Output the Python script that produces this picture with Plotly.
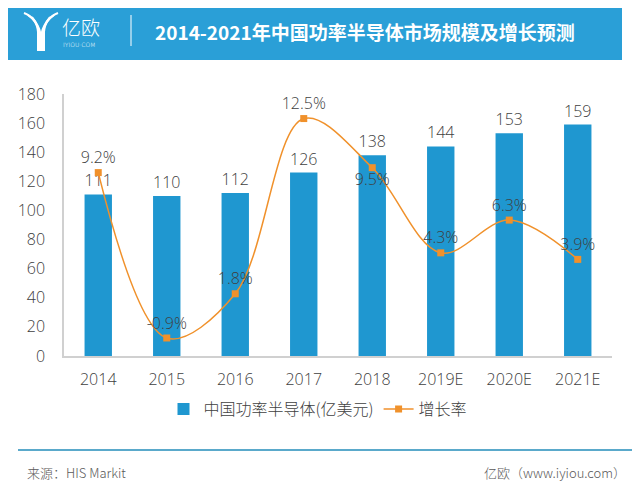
import plotly.graph_objects as go

# chart data
years = ['2014', '2015', '2016', '2017', '2018', '2019E', '2020E', '2021E']
market_size = [111, 110, 112, 126, 138, 144, 153, 159]
growth = [9.2, -0.9, 1.8, 12.5, 9.5, 4.3, 6.3, 3.9]
growth_text = ['9.2%', '-0.9%', '1.8%', '12.5%', '9.5%', '4.3%', '6.3%', '3.9%']

title_text = '2014-2021年中国功率半导体市场规模及增长预测'
source_text = '来源：HIS Markit'
brand_text = '亿欧（www.iyiou.com）'

BAR_BLUE = '#1f97d0'
LINE_ORANGE = '#f0912b'
HEADER_BLUE = '#2a9fd7'
TEXT = '#404040'
FONT = 'Noto Sans CJK SC'
NUM_FONT = 'Open Sans'

# plot area in window pixels; the page body adds an 8px offset, so the figure is shrunk by it
OFF = 8
W, H = 640 - OFF, 492 - OFF
L, R, T, B = 64, 612, 94, 356


def px(x):
    return (x - L) / (R - L)


def py(y):
    return (B - y) / (B - T)


num_font = dict(size=16, color=TEXT, family=NUM_FONT, weight=300)

fig = go.Figure()

fig.add_trace(go.Bar(
    x=years, y=market_size, name='中国功率半导体(亿美元)',
    marker=dict(color=BAR_BLUE, line=dict(width=0)), width=0.4,
    text=[str(v) for v in market_size], textposition='outside',
    textfont=num_font, cliponaxis=False,
))

label_pos = ['top center'] * len(years)
label_pos[4] = 'bottom center'
fig.add_trace(go.Scatter(
    x=years, y=growth, name='增长率', yaxis='y2',
    mode='lines+markers+text', line=dict(color=LINE_ORANGE, width=1.5, shape='spline', smoothing=1),
    marker=dict(symbol='square', size=7, color=LINE_ORANGE),
    text=growth_text, textposition=label_pos,
    textfont=num_font, cliponaxis=False,
))

fig.update_layout(
    width=W, height=H,
    margin=dict(l=L - OFF, r=640 - R, t=T - OFF, b=492 - B, autoexpand=False),
    paper_bgcolor='white', plot_bgcolor='white',
    font=dict(family=FONT, color=TEXT, size=16, weight=300),
    bargap=0.6,
    showlegend=True,
    legend=dict(orientation='h', x=px(318), xanchor='center', y=py(409), yanchor='middle',
                font=dict(size=16, color=TEXT, family=FONT, weight=300), itemwidth=30, tracegroupgap=0),
    xaxis=dict(showline=True, linecolor='#d0d0d0', linewidth=1.5, showgrid=False, automargin=False,
               ticks='', tickfont=num_font, ticklabelstandoff=8),
    yaxis=dict(range=[0, 180], dtick=20, showline=True, linecolor='#d0d0d0', linewidth=1.5,
               showgrid=False, zeroline=False, ticks='', tickfont=num_font,
               ticklabelstandoff=14, automargin=False),
    yaxis2=dict(range=[-2, 14], overlaying='y', side='right', visible=False, showgrid=False,
                automargin=False),
)

# header band
fig.add_shape(type='rect', xref='paper', yref='paper', x0=px(OFF), x1=px(622), y0=py(OFF), y1=py(60),
              fillcolor=HEADER_BLUE, line=dict(width=0), layer='below')
fig.add_shape(type='line', xref='paper', yref='paper', x0=px(131), x1=px(131), y0=py(15), y1=py(46),
              line=dict(color='white', width=1))

# logo icon, rough Y made of curved strokes joining into a stem
for dx in [0, 4, 8]:
    fig.add_shape(type='path', xref='paper', yref='paper',
                  path=(f'M {px(24 + dx)},{py(13 + dx * 0.5)} Q {px(37 + dx / 4)},{py(18 + dx)} '
                        f'{px(38 + dx / 4)},{py(32)} L {px(38 + dx / 4)},{py(51)}'),
                  line=dict(color='white', width=2))
    fig.add_shape(type='path', xref='paper', yref='paper',
                  path=(f'M {px(58 - dx)},{py(13 + dx * 0.5)} Q {px(45 - dx / 4)},{py(18 + dx)} '
                        f'{px(44 - dx / 4)},{py(32)} L {px(44 - dx / 4)},{py(51)}'),
                  line=dict(color='white', width=2))

fig.add_annotation(text='亿欧', xref='paper', yref='paper', x=px(60), y=py(26), xanchor='left', yanchor='middle',
                   showarrow=False, font=dict(size=19, color='white', family=FONT, weight=300))
fig.add_annotation(text='IYIOU·COM', xref='paper', yref='paper', x=px(61), y=py(44), xanchor='left',
                   yanchor='middle', showarrow=False, font=dict(size=6, color='white', family='DejaVu Sans'))
fig.add_annotation(text=f'<b>{title_text}</b>', xref='paper', yref='paper', x=px(365), y=py(31),
                   xanchor='center', yanchor='middle', showarrow=False,
                   font=dict(size=19, color='white', family=FONT, weight='bold'))

# footer
fig.add_shape(type='line', xref='paper', yref='paper', x0=px(18), x1=px(640), y0=py(450), y1=py(450),
              line=dict(color='#5aa9cb', width=2))
fig.add_annotation(text=source_text, xref='paper', yref='paper', x=px(25), y=py(472), xanchor='left',
                   yanchor='middle', showarrow=False, font=dict(size=13, color='#595959', family=FONT, weight=300))
fig.add_annotation(text=brand_text, xref='paper', yref='paper', x=px(628), y=py(472), xanchor='right',
                   yanchor='middle', showarrow=False, font=dict(size=13, color='#595959', family=FONT, weight=300))

fig.write_html('out.html')
